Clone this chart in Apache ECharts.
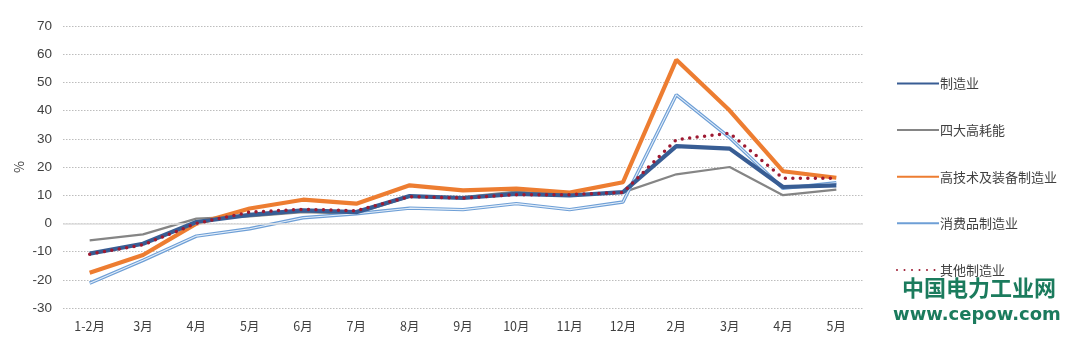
<!DOCTYPE html>
<html>
<head>
<meta charset="utf-8">
<script src="https://cdn.jsdelivr.net/npm/echarts@6/dist/echarts.min.js"></script>
<style>html,body{margin:0;padding:0;background:#fff;}#c{width:1080px;height:346px;}</style>
</head>
<body>
<div id="c"></div>
<script>
const categories = ['1-2月','3月','4月','5月','6月','7月','8月','9月','10月','11月','12月','2月','3月','4月','5月'];
const manufacturing = [-10.7,-7.2,0.5,3,4.6,4,9.7,9,10.5,9.9,11.1,27.4,26.5,12.9,13.5];
const highEnergy = [-6,-3.9,1.7,2.5,4,3.5,9.5,9.3,11.3,10,11,17.4,20,10,12];
const hiTech = [-17.5,-11.2,-0.1,5.3,8.4,7,13.5,11.7,12.3,10.9,14.6,58,40,18.5,16.2];
const consumer = [-21.2,-13.1,-4.5,-1.9,2,3.4,5.4,4.9,7,4.9,7.6,45.6,30.4,12.4,14.4];
const other = [-10.9,-7.6,0,4,5,4.5,9.5,9,10.2,10.2,11,29.7,32,16,16];
const yTicks = {min:-30, max:70, interval:10};

const cjk = '"Noto Sans CJK SC", "Noto Sans", sans-serif';
const chart = echarts.init(document.getElementById('c'));
chart.setOption({
  animation:false,
  backgroundColor:'#fff',
  grid:{left:63, right:217, top:26, bottom:38},
  legend:{
    orient:'vertical', left:891, top:72, itemWidth:42, itemHeight:14, itemGap:33.6,
    data:['制造业','四大高耗能','高技术及装备制造业','消费品制造业','其他制造业'],
    itemStyle:{opacity:0},
    textStyle:{fontFamily:cjk, fontSize:13, color:'#404040', padding:[0,0,0,-4]},
    selectedMode:false
  },
  xAxis:{
    type:'category', data:categories, boundaryGap:true,
    axisLine:{show:false}, axisTick:{show:false},
    axisLabel:{fontFamily:cjk, fontSize:12.5, color:'#404040', margin:12}
  },
  yAxis:{
    type:'value', min:yTicks.min, max:yTicks.max, interval:yTicks.interval,
    name:'%', nameLocation:'middle', nameGap:37, nameRotate:90, nameMoveOverlap:false,
    nameTextStyle:{fontFamily:cjk, fontSize:13, color:'#404040'},
    axisLine:{show:false}, axisTick:{show:false},
    axisLabel:{fontFamily:'"Liberation Sans", "Noto Sans", sans-serif', fontSize:13.5, color:'#404040', margin:11},
    splitLine:{lineStyle:{color:'#bdbdbd', type:[1.5,1.5], width:1}}
  },
  series:[
    {name:'四大高耗能', type:'line', data:highEnergy, symbol:'none', z:2,
     lineStyle:{color:'#858585', width:2.2}, itemStyle:{color:'#858585'},
     markLine:{silent:true, symbol:'none', label:{show:false}, lineStyle:{color:'#dcdcdc', type:'solid', width:1.5}, data:[{yAxis:0}]}},
    {name:'消费品制造业', type:'line', data:consumer, symbol:'none', z:3,
     lineStyle:{color:'#6e9fd6', width:3.4}, itemStyle:{color:'#8fb6e2'}},
    {name:'消费品制造业-inner', type:'line', data:consumer, symbol:'none', z:3,
     lineStyle:{color:'#e4eef9', width:1.1}},
    {name:'高技术及装备制造业', type:'line', data:hiTech, symbol:'none', z:4,
     lineStyle:{color:'#ed7d31', width:4.2}, itemStyle:{color:'#ed7d31'}},
    {name:'制造业', type:'line', data:manufacturing, symbol:'none', z:5,
     lineStyle:{color:'#385d94', width:4.2}, itemStyle:{color:'#385d94'}},
    {name:'其他制造业', type:'line', data:other, symbol:'none', z:6,
     lineStyle:{color:'#9e1a32', width:3.5, type:[0,7.5], cap:'round'}, itemStyle:{color:'#9e1a32'}}
  ],
  graphic:[
    {type:'text', left:902, top:277, z:100,
     style:{text:'中国电力工业网', fill:'#1b7b5d', font:'bold 22px "Noto Sans CJK SC", sans-serif'}},
    {type:'text', left:893, top:306, z:100,
     style:{text:'www.cepow.com', fill:'#1b7b5d', font:'bold 18px "DejaVu Sans", sans-serif'}}
  ]
});
</script>
</body>
</html>
